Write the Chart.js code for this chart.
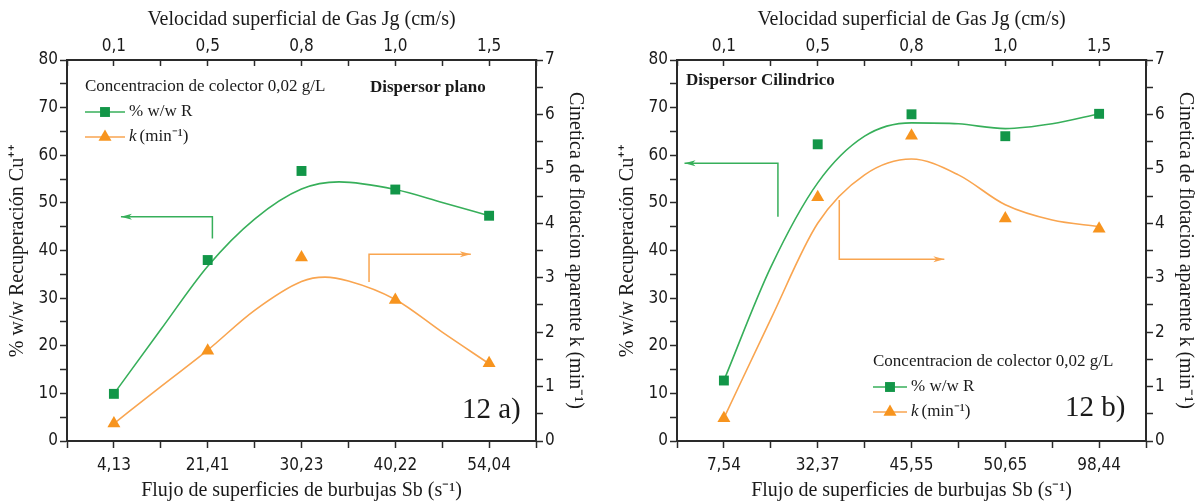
<!DOCTYPE html>
<html lang="es">
<head>
<meta charset="UTF-8">
<title>Recuperación de Cu y cinética de flotación</title>
<script src="https://cdn.jsdelivr.net/npm/chart.js@4/dist/chart.umd.min.js"></script>
<style>
  body { margin: 0; background: #fff; width: 1198px; height: 504px; overflow: hidden; position: relative; }
  canvas { position: absolute; top: 0; }
  #chartA { left: 0; }
  #chartB { left: 600px; }
</style>
</head>
<body>
<canvas id="chartA" width="600" height="504"></canvas>
<canvas id="chartB" width="598" height="504"></canvas>
<script>
// eje superior (Jg, cm/s), igual en ambas figuras
const jgLabels = ['0,1', '0,5', '0,8', '1,0', '1,5'];

// 12 a) dispersor plano
const sbA = ['4,13', '21,41', '30,23', '40,22', '54,04'];
const recA = [9.9, 38.0, 56.7, 52.8, 47.3];
const kA = [0.32, 1.66, 3.37, 2.59, 1.43];
const recFitXA = [0, 0.5, 1, 1.5, 2, 2.4, 3, 3.5, 4];
const recFitA = [9.9, 23.4, 36.7, 46.6, 52.9, 54.4, 52.8, 50.1, 47.3];
const kFitXA = [0, 0.5, 1, 1.5, 2, 2.25, 2.5, 3, 3.5, 4];
const kFitA = [0.32, 1.0, 1.67, 2.4, 2.93, 3.01, 2.94, 2.6, 2.0, 1.42];

// 12 b) dispersor cilindrico
const sbB = ['7,54', '32,37', '45,55', '50,65', '98,44'];
const recB = [12.7, 62.3, 68.6, 64.0, 68.7];
const kB = [0.42, 4.48, 5.61, 4.09, 3.90];
const recFitXB = [0, 0.5, 1, 1.5, 2, 2.5, 3, 3.5, 4];
const recFitB = [12.7, 36.5, 54.2, 64.0, 66.8, 66.6, 65.6, 66.6, 68.7];
const kFitXB = [0, 0.5, 1, 1.5, 2, 2.5, 3, 3.5, 4];
const kFitB = [0.42, 2.24, 4.0, 4.89, 5.18, 4.89, 4.34, 4.06, 3.94];

const GREEN_PT = 'rgb(18,150,72)';
const GREEN = 'rgb(55,175,90)';
const ORANGE_PT = 'rgb(247,148,30)';
const ORANGE = 'rgb(249,165,80)';
const AXIS = '#2a2a2a';
const TXT = '#1a1a1a';
const SERIF = '"Liberation Serif", "Times New Roman", serif';
const NARROW = '"Liberation Sans Narrow", "DejaVu Sans Condensed", "Liberation Sans", sans-serif';
const TICK_FONT = { family: NARROW, size: 17 };
const TITLE_FONT = { family: SERIF, size: 20 };

// flechas indicadoras (coordenadas de datos: indice de categoria, valor del eje)
const arrowsA = [
  { axis: 'y', color: GREEN, pts: [[1.05, 42.5], [1.05, 47.1], [0.075, 47.1]] },
  { axis: 'y1', color: ORANGE, pts: [[2.72, 2.92], [2.72, 3.43], [3.805, 3.43]] }
];
const arrowsB = [
  { axis: 'y', color: GREEN, pts: [[0.576, 47.1], [0.576, 58.3], [-0.42, 58.3]] },
  { axis: 'y1', color: ORANGE, pts: [[1.23, 4.43], [1.23, 3.34], [2.35, 3.34]] }
];

function extrasPlugin(ex) {
  return {
    id: 'extras',
    afterDatasetsDraw(chart) {
      const ctx = chart.ctx;
      const xs = chart.scales.x;
      ctx.save();

      // flechas
      ex.arrows.forEach(a => {
        const ys = chart.scales[a.axis];
        const p = a.pts.map(([x, y]) => [xs.getPixelForValue(x), ys.getPixelForValue(y)]);
        ctx.strokeStyle = a.color;
        ctx.fillStyle = a.color;
        ctx.lineWidth = 1.5;
        ctx.beginPath();
        p.forEach(([x, y], i) => (i ? ctx.lineTo(x, y) : ctx.moveTo(x, y)));
        ctx.stroke();
        const [x1, y1] = p[p.length - 2];
        const [x2, y2] = p[p.length - 1];
        const c = Math.cos(Math.atan2(y2 - y1, x2 - x1));
        const s = Math.sin(Math.atan2(y2 - y1, x2 - x1));
        ctx.beginPath();
        ctx.moveTo(x2, y2);
        ctx.lineTo(x2 - 11 * c + 3 * s, y2 - 11 * s - 3 * c);
        ctx.lineTo(x2 - 8 * c, y2 - 8 * s);
        ctx.lineTo(x2 - 11 * c - 3 * s, y2 - 11 * s + 3 * c);
        ctx.closePath();
        ctx.fill();
      });

      // leyenda
      const lg = ex.legend;
      ctx.textAlign = 'left';
      ctx.textBaseline = 'middle';
      ctx.fillStyle = TXT;
      ctx.font = '17px ' + SERIF;
      ctx.fillText('Concentracion de colector 0,02 g/L', lg.x, lg.y);
      [0, 1].forEach(i => {
        const ds = chart.data.datasets[i];
        const y = lg.y + lg.gap * (i + 1);
        ctx.strokeStyle = i ? ORANGE : GREEN;
        ctx.lineWidth = 1.5;
        ctx.beginPath();
        ctx.moveTo(lg.x, y);
        ctx.lineTo(lg.x + lg.len, y);
        ctx.stroke();
        ctx.fillStyle = ds.backgroundColor;
        Chart.helpers.drawPoint(ctx, { pointStyle: ds.pointStyle, radius: ds.pointRadius, rotation: 0, borderWidth: 0 },
          lg.x + lg.len / 2, y);
        ctx.fillStyle = TXT;
        let tx = lg.x + lg.len + 4;
        if (i === 0) {
          ctx.font = '17px ' + SERIF;
          ctx.fillText('% w/w R', tx, y);
        } else {
          ctx.font = 'italic 17px ' + SERIF;
          ctx.fillText('k', tx, y);
          tx += ctx.measureText('k').width + 3;
          ctx.font = '17px ' + SERIF;
          ctx.fillText('(min⁻¹)', tx, y);
        }
      });

      // rotulos
      ctx.font = 'bold 17px ' + SERIF;
      ctx.fillText(ex.name.text, ex.name.x, ex.name.y);
      ctx.font = '29px ' + SERIF;
      ctx.fillText(ex.tag.text, ex.tag.x, ex.tag.y);
      ctx.restore();
    }
  };
}

function makeChart(id, o) {
  const byIndex = arr => arr.map((v, i) => ({ x: i, y: v }));
  const pairs = (xs, ys) => xs.map((x, i) => ({ x: x, y: ys[i] }));
  const isInt = v => Math.abs(v - Math.round(v)) < 1e-6;
  const grid = { drawOnChartArea: false, color: AXIS, tickLength: 7, tickWidth: 1.5 };
  const border = { color: AXIS, width: 2 };
  const catLabel = labels => v => (isInt(v) && v > -0.1 && v < 4.1 ? labels[Math.round(v)] : '');

  return new Chart(document.getElementById(id), {
    type: 'scatter',
    data: {
      datasets: [
        { label: '% w/w R', data: byIndex(o.rec), yAxisID: 'y', pointStyle: 'rect', pointRadius: 7,
          backgroundColor: GREEN_PT, borderColor: GREEN_PT, borderWidth: 0 },
        { label: 'k (min-1)', data: byIndex(o.k), yAxisID: 'y1', pointStyle: 'triangle', pointRadius: 7.5,
          backgroundColor: ORANGE_PT, borderColor: ORANGE_PT, borderWidth: 0 },
        { data: pairs(o.recFitX, o.recFit), yAxisID: 'y', showLine: true, pointRadius: 0,
          borderColor: GREEN, borderWidth: 1.6, cubicInterpolationMode: 'monotone' },
        { data: pairs(o.kFitX, o.kFit), yAxisID: 'y1', showLine: true, pointRadius: 0,
          borderColor: ORANGE, borderWidth: 1.6, cubicInterpolationMode: 'monotone' }
      ]
    },
    options: {
      responsive: false,
      animation: false,
      devicePixelRatio: 1,
      layout: { padding: 0 },
      plugins: { legend: { display: false }, tooltip: { enabled: false } },
      scales: {
        x: {
          type: 'linear', position: 'bottom', min: -0.5, max: 4.5,
          afterFit: s => { s.height = o.bottomH; },
          ticks: { stepSize: 0.5, autoSkip: false, maxRotation: 0, color: TXT, font: TICK_FONT, padding: 7,
                   callback: catLabel(o.sb) },
          grid: grid, border: border,
          title: { display: true, text: 'Flujo de superficies de burbujas Sb (s⁻¹)', color: TXT, font: TITLE_FONT,
                   padding: { top: 0, bottom: 1 } }
        },
        x2: {
          type: 'linear', position: 'top', min: -0.5, max: 4.5,
          afterFit: s => { s.height = o.topH; },
          ticks: { stepSize: 0.5, autoSkip: false, maxRotation: 0, color: TXT, font: TICK_FONT, padding: 9,
                   callback: catLabel(jgLabels) },
          grid: Object.assign({}, grid, { tickLength: -6 }), border: border,
          title: { display: true, text: 'Velocidad superficial de Gas Jg (cm/s)', color: TXT, font: TITLE_FONT,
                   padding: { top: 8, bottom: 0 } }
        },
        y: {
          position: 'left', min: 0, max: 80,
          afterFit: s => { s.width = o.yW; },
          ticks: { stepSize: 5, autoSkip: false, color: TXT, font: TICK_FONT, padding: 2,
                   callback: v => (v % 10 === 0 ? v : '') },
          grid: grid, border: border,
          title: { display: true, text: '% w/w Recuperación Cu⁺⁺', color: TXT, font: TITLE_FONT,
                   padding: { top: o.yTitlePad, bottom: 0 } }
        },
        y1: {
          position: 'right', min: 0, max: 7,
          afterFit: s => { s.width = o.y1W; },
          ticks: { stepSize: 0.5, autoSkip: false, color: TXT, font: TICK_FONT, padding: 2,
                   callback: v => (isInt(v) ? Math.round(v) : '') },
          grid: grid, border: border,
          title: { display: true, text: 'Cinetica de flotacion aparente k (min⁻¹)', color: TXT, font: TITLE_FONT,
                   padding: { top: o.y1TitlePad, bottom: 0 } }
        }
      }
    },
    plugins: [extrasPlugin(o.extras)]
  });
}

makeChart('chartA', {
  sb: sbA, rec: recA, k: kA,
  recFitX: recFitXA, recFit: recFitA, kFitX: kFitXA, kFit: kFitA,
  yW: 67, y1W: 64, topH: 60, bottomH: 63, yTitlePad: 6, y1TitlePad: 13,
  extras: {
    arrows: arrowsA,
    legend: { x: 85, y: 87, gap: 25, len: 40 },
    name: { text: 'Dispersor plano', x: 370, y: 88 },
    tag: { text: '12 a)', x: 462, y: 410 }
  }
});

makeChart('chartB', {
  sb: sbB, rec: recB, k: kB,
  recFitX: recFitXB, recFit: recFitB, kFitX: kFitXB, kFit: kFitB,
  yW: 77, y1W: 52, topH: 60, bottomH: 63, yTitlePad: 16, y1TitlePad: 1,
  extras: {
    arrows: arrowsB,
    legend: { x: 273, y: 362, gap: 25, len: 34 },
    name: { text: 'Dispersor Cilindrico', x: 86, y: 81 },
    tag: { text: '12 b)', x: 465, y: 408 }
  }
});
</script>
</body>
</html>
